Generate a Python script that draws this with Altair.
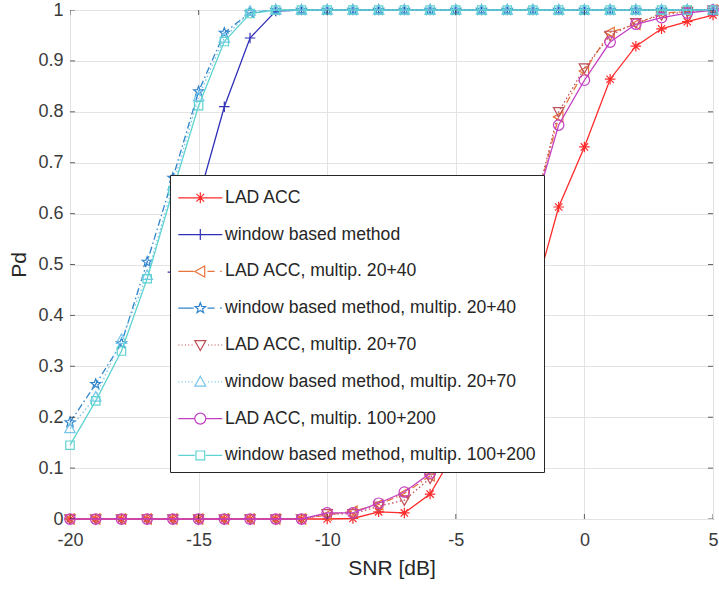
import math
import altair as alt
import pandas as pd

# ---------------- data ----------------
snr = list(range(-20, 6))

series_names = [
    "LAD ACC",
    "window based method",
    "LAD ACC, multip. 20+40",
    "window based method, multip. 20+40",
    "LAD ACC, multip. 20+70",
    "window based method, multip. 20+70",
    "LAD ACC, multip. 100+200",
    "window based method, multip. 100+200",
]

lad_acc = [0.0] * 11 + [0.001, 0.014, 0.012, 0.049, 0.135, 0.215, 0.315, 0.43,
                        0.613, 0.731, 0.864, 0.929, 0.963, 0.977, 0.99]
window_based = [None] * 4 + [0.485, 0.63, 0.81, 0.945, 0.998] + [1.0] * 17
lad_20_40 = [0.0] * 10 + [0.008, 0.015, 0.028, 0.05, 0.085, 0.17, 0.28, 0.42,
                          0.6, 0.79, 0.88, 0.956, 0.972, 0.994, 0.997, 1.0]
win_20_40 = [0.19, 0.265, 0.345, 0.505, 0.67, 0.84, 0.955, 0.995] + [1.0] * 18
lad_20_70 = [0.0] * 10 + [0.01, 0.01, 0.025, 0.037, 0.08, 0.16, 0.27, 0.41,
                          0.6, 0.8, 0.886, 0.95, 0.975, 0.99, 0.997, 1.0]
win_20_70 = [0.178, 0.24, 0.353, 0.479, 0.655, 0.83, 0.945, 0.998] + [1.0] * 18
lad_100_200 = [0.0] * 10 + [0.012, 0.012, 0.031, 0.053, 0.09, 0.17, 0.28, 0.42,
                            0.6, 0.774, 0.862, 0.937, 0.972, 0.985, 0.994, 1.0]
win_100_200 = [0.145, 0.232, 0.33, 0.472, 0.645, 0.812, 0.938, 0.993] + [1.0] * 18

series_values = [lad_acc, window_based, lad_20_40, win_20_40,
                 lad_20_70, win_20_70, lad_100_200, win_100_200]

x_tick_values = [-20, -15, -10, -5, 0, 5]
y_tick_values = [round(i / 10, 1) for i in range(11)]

# ---------------- styles ----------------
colors = ["#ff2b2b", "#2f2fb8", "#e8743b", "#2f84cc",
          "#c0505a", "#78c6ea", "#c43ec4", "#5fd3d0"]
line_types = ["solid", "solid", "dashdot", "dashdot",
              "dotted", "dotted", "solid", "solid"]
dash_arrays = {"solid": None, "dashdot": [7, 3, 1.5, 3], "dotted": [1.5, 2.5]}


def star_path():
    pts = []
    for k in range(10):
        r = 1.0 if k % 2 == 0 else 0.42
        a = math.radians(-90 + 36 * k)
        pts.append(f"{r * math.cos(a):.3f},{r * math.sin(a):.3f}")
    return "M" + "L".join(pts) + "Z"


marker_paths = [
    "M-1,0H1M0,-1V1M-0.7,-0.7L0.7,0.7M-0.7,0.7L0.7,-0.7",  # asterisk
    "M-1,0H1M0,-1V1",                                       # plus
    "M-1,0L0.8,-1L0.8,1Z",                                  # triangle left
    star_path(),                                            # pentagram
    "M-1,-0.8L1,-0.8L0,1Z",                                 # triangle down
    "M-1,0.8L1,0.8L0,-1Z",                                  # triangle up
    "M-1,0A1,1,0,1,0,1,0A1,1,0,1,0,-1,0Z",                  # circle
    "M-0.8,-0.8H0.8V0.8H-0.8Z",                             # square
]
through_marker = [True, True, False, False, False, False, False, False]


def legend_line(kind, through):
    if kind == "solid":
        return "M-4,0H4" if through else "M-4,0H-1M1,0H4"
    if kind == "dashdot":
        return "M-4,0H-1.2M1.3,0H2.6M3.6,0H3.9"
    segs = []
    x = -4.0
    while x < -1.2:
        segs.append(f"M{x:.2f},0H{x + 0.2:.2f}")
        x += 0.6
    x = 1.4
    while x < 4.0:
        segs.append(f"M{x:.2f},0H{x + 0.2:.2f}")
        x += 0.6
    return "".join(segs)


legend_paths = [legend_line(k, t) + m for k, t, m in zip(line_types, through_marker, marker_paths)]

rows = [
    {"series": n, "snr": x, "pd": v}
    for n, vals in zip(series_names, series_values)
    for x, v in zip(snr, vals)
    if v is not None
]
df = pd.DataFrame(rows)

FONT = "Liberation Sans"
x_scale = alt.Scale(domain=[-20, 5], nice=False, zero=False)
y_scale = alt.Scale(domain=[0, 1], nice=False)

X = alt.X("snr:Q", scale=x_scale, title="SNR [dB]",
          axis=alt.Axis(values=x_tick_values, labelExpr="datum.value + ''",
                        ticks=False, tickSize=0, domain=False, labelPadding=12,
                        labelFlush=False, titlePadding=8))
Y = alt.Y("pd:Q", scale=y_scale, title="Pd",
          axis=alt.Axis(values=y_tick_values, format="~g", ticks=False, tickSize=0,
                        domain=False, labelPadding=7, labelFlush=False, titlePadding=8))

layers = []
for name, col, kind, mpath in zip(series_names, colors, line_types, marker_paths):
    base = alt.Chart(df).transform_filter(alt.datum.series == name)
    line_kw = dict(color=col, strokeWidth=1.3)
    if dash_arrays[kind] is not None:
        line_kw["strokeDash"] = dash_arrays[kind]
    layers.append(base.mark_line(**line_kw).encode(x=X, y=Y))
    layers.append(base.mark_point(shape=mpath, color=col, filled=False, size=110,
                                  strokeWidth=1.2, opacity=1).encode(x=X, y=Y))

# inward ticks on the box
tick_x_df = pd.DataFrame([{"snr": t, "pd": yy} for t in x_tick_values for yy in (0, 1)])
tick_y_df = pd.DataFrame([{"snr": xx, "pd": t} for t in y_tick_values for xx in (-20, 5)])
layers.append(alt.Chart(tick_x_df).mark_tick(orient="vertical", size=10, thickness=1,
                                             color="#262626", clip=True).encode(x=X, y=Y))
layers.append(alt.Chart(tick_y_df).mark_tick(orient="horizontal", size=10, thickness=1,
                                             color="#262626", clip=True).encode(x=X, y=Y))

legend_kw = dict(
    title="\u00a0", titleFontSize=4, titlePadding=2,
    orient="none", legendX=100, legendY=165,
    labelFont=FONT, labelFontSize=17.6, labelColor="#262626", labelLimit=600,
    symbolSize=121, symbolStrokeWidth=1.2, symbolOffset=13.5, labelOffset=16,
    rowPadding=17.8, padding=8, strokeColor="#262626", fillColor="white",
    symbolOpacity=1, cornerRadius=0,
)
legend_layer = alt.Chart(df).mark_point(filled=False, opacity=0, size=121).encode(
    x=X, y=Y,
    color=alt.Color("series:N", scale=alt.Scale(domain=series_names, range=colors),
                    legend=alt.Legend(**legend_kw)),
    shape=alt.Shape("series:N", scale=alt.Scale(domain=series_names, range=legend_paths),
                    legend=alt.Legend(**legend_kw)),
)
layers.append(legend_layer)

chart = alt.layer(*layers).properties(
    width=643, height=509,
    padding={"left": 70, "top": 10, "right": 6, "bottom": 70},
    autosize="none",
    background="white",
).configure_view(
    stroke="#262626", strokeWidth=1
).configure_axis(
    grid=True, gridColor="#e3e3e3", gridWidth=1,
    labelFont=FONT, labelFontSize=18, labelColor="#3a3a3a",
    titleFont=FONT, titleFontSize=21, titleColor="#262626", titleFontWeight="normal",
)

chart.save("out.html", embed_options={"renderer": "svg", "actions": False})
